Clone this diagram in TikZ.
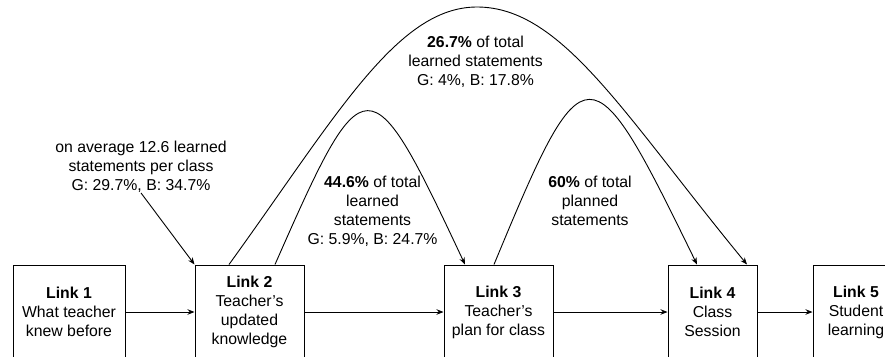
\documentclass[tikz,border=0pt]{standalone}
\usepackage{fontspec}
\setmainfont{Liberation Sans}
\usetikzlibrary{arrows.meta}

\begin{document}
\begin{tikzpicture}[x=1pt,y=-1pt]
\tikzset{every node/.style={font=\fontsize{15.8}{19}\selectfont,align=center}}
\tikzset{linkbox/.style={draw,line width=1pt,minimum height=94pt,inner sep=2pt}}
\tikzset{note/.style={inner sep=0pt}}
\tikzset{flow/.style={line width=0.9pt,-{Stealth[length=7pt,width=5.5pt]}}}

\useasboundingbox (0,0) rectangle (885,356);
\clip (0,0) rectangle (885,356);

% the five links
\node[linkbox,minimum width=112pt] (l1) at (69,312) {\textbf{Link 1}\\What teacher\\knew before};
\node[linkbox,minimum width=109pt] (l2) at (249.5,312) {\textbf{Link 2}\\Teacher's\\updated\\knowledge};
\node[linkbox,minimum width=109pt] (l3) at (498.5,312) {\textbf{Link 3}\\Teacher's\\plan for class};
\node[linkbox,minimum width=89pt] (l4) at (712.5,312) {\textbf{Link 4}\\Class\\Session};
\node[linkbox,minimum width=86pt] (l5) at (856,312) {\textbf{Link 5}\\Student\\learning};

\draw[flow] (l1) -- (l2);
\draw[flow] (l2) -- (l3);
\draw[flow] (l3) -- (l4);
\draw[flow] (l4) -- (l5);

% notes
\node[note] (avg) at (141,167) {on average 12.6 learned\\statements per class\\G: 29.7\%, B: 34.7\%};
\node[note] (big) at (475.5,62) {\textbf{26.7\%} of total\\learned statements\\G: 4\%, B: 17.8\%};
\node[note] (learn) at (372.5,211.5) {\textbf{44.6\%} of total\\learned\\statements\\G: 5.9\%, B: 24.7\%};
\node[note] (plan) at (590,201) {\textbf{60\%} of total\\planned\\statements};

\draw[flow] (avg.south) -- (l2.north west);

% arcs
\draw[flow] ([xshift=-20.5pt]l2.north) .. controls (337,115) and (397,7) .. (477,7)
  .. controls (562,7) and (624,115) .. ([xshift=34.5pt]l4.north);
\draw[flow] ([xshift=25.5pt]l2.north) .. controls (365,60) and (369,60) .. ([xshift=-33.5pt]l3.north);
\draw[flow] ([xshift=-4.5pt]l3.north) .. controls (585,45) and (590,45) .. ([xshift=-15.5pt]l4.north);

\end{tikzpicture}
\end{document}
